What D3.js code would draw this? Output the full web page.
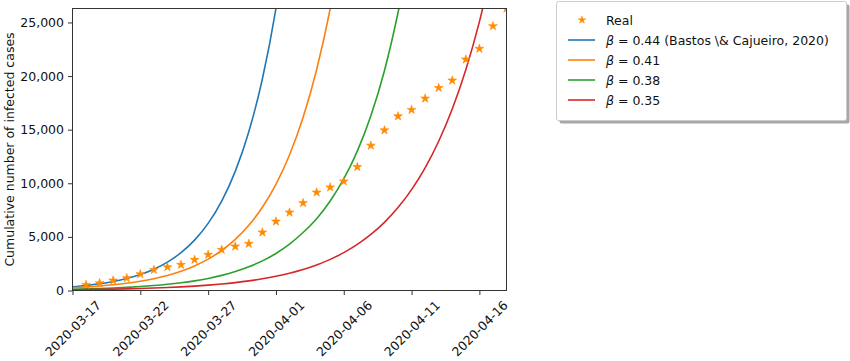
<!DOCTYPE html>
<html>
<head>
<meta charset="utf-8">
<script src="https://cdn.jsdelivr.net/npm/d3@7"></script>
<style>
  html, body { margin: 0; padding: 0; background: #fff; }
  svg { display: block; font-family: "DejaVu Sans", sans-serif; }
</style>
</head>
<body>
<svg id="chart" width="850" height="361"></svg>
<script>
// ---------------- data ----------------
const days = [
  "2020-03-17","2020-03-18","2020-03-19","2020-03-20","2020-03-21","2020-03-22",
  "2020-03-23","2020-03-24","2020-03-25","2020-03-26","2020-03-27","2020-03-28",
  "2020-03-29","2020-03-30","2020-03-31","2020-04-01","2020-04-02","2020-04-03",
  "2020-04-04","2020-04-05","2020-04-06","2020-04-07","2020-04-08","2020-04-09",
  "2020-04-10","2020-04-11","2020-04-12","2020-04-13","2020-04-14","2020-04-15",
  "2020-04-16","2020-04-17","2020-04-18"
];
// Real cumulative cases, from 2020-03-18
const realDays = days.slice(1);
const realCases = [530, 690, 935, 1160, 1530, 1930, 2185, 2400, 2865, 3335, 3800, 4110,
  4360, 5420, 6440, 7280, 8160, 9150, 9620, 10180, 11525, 13515, 14945, 16250,
  16850, 17905, 18900, 19585, 21550, 22550, 24660, 26300];
// Model curves, from 2020-03-17, one value per day
const beta044 = [355, 473, 630, 840, 1119, 1491, 1986, 2647, 3526, 4698, 6260, 8341,
  11113, 14807, 19729, 26287, 35025];
const beta041 = [255, 325, 415, 530, 677, 863, 1102, 1406, 1795, 2291, 2924, 3732,
  4763, 6079, 7759, 9903, 12639, 16131, 20588, 26277, 33537];
const beta038 = [120, 150, 188, 235, 294, 368, 460, 576, 720, 901, 1127, 1410, 1764,
  2207, 2762, 3455, 4323, 5408, 6700, 8350, 10400, 13000, 16300, 20500, 25900, 32500];
const beta035 = [70, 85, 104, 126, 153, 187, 227, 276, 336, 409, 497, 605, 736, 895,
  1089, 1325, 1612, 1961, 2385, 2902, 3530, 4294, 5224, 6355, 7731, 9405, 11441,
  13918, 16932, 20598, 25057, 30482];
const seriesNames = ["0.44 (Bastos \\& Cajueiro, 2020)", "0.41", "0.38", "0.35"];
const seriesColors = ["#1f77b4", "#ff7f0e", "#2ca02c", "#d62728"];
const yTicks = [0, 5000, 10000, 15000, 20000, 25000];
const xTickLabels = ["2020-03-17","2020-03-22","2020-03-27","2020-04-01","2020-04-06","2020-04-11","2020-04-16"];
const yLabel = "Cumulative number of infected cases";
const realLabel = "Real";
const yMax = 26300;

// ---------------- layout ----------------
const parse = d3.timeParse("%Y-%m-%d");
const plot = { left: 72.5, right: 506.5, top: 8.5, bottom: 290.5 };
const svg = d3.select("#chart");

const x = d3.scaleTime()
  .domain([parse(days[0]), parse(days[days.length - 1])])
  .range([plot.left, plot.right]);
const y = d3.scaleLinear().domain([0, yMax]).range([plot.bottom, plot.top]);

svg.append("defs").append("clipPath").attr("id", "clip")
  .append("rect")
  .attr("x", plot.left).attr("y", plot.top)
  .attr("width", plot.right - plot.left).attr("height", plot.bottom - plot.top);

// lines
const line = d3.line()
  .x(d => x(d.date)).y(d => y(d.v))
  .curve(d3.curveMonotoneX);
const series = [beta044, beta041, beta038, beta035];
const gLines = svg.append("g").attr("clip-path", "url(#clip)");
series.forEach((vals, i) => {
  const pts = vals.map((v, k) => ({ date: parse(days[k]), v }));
  gLines.append("path")
    .attr("d", line(pts))
    .attr("fill", "none")
    .attr("stroke", seriesColors[i])
    .attr("stroke-width", 1.6);
});

// stars
const starColor = "#ff8c00";
const star = d3.symbol().type(d3.symbolStar).size(24);
const gStars = svg.append("g").attr("clip-path", "url(#clip)");
realCases.forEach((v, k) => {
  gStars.append("path")
    .attr("d", star())
    .attr("transform", `translate(${x(parse(realDays[k]))},${y(v)})`)
    .attr("fill", starColor)
    .attr("stroke", starColor)
    .attr("stroke-width", 0.6);
});

// axes
const yAxis = d3.axisLeft(y).tickValues(yTicks).tickFormat(d3.format(",")).tickSize(4.5).tickPadding(4);
const gy = svg.append("g").attr("transform", `translate(${plot.left},0)`).call(yAxis);
gy.select(".domain").remove();
gy.selectAll(".tick line").attr("stroke", "#333").attr("stroke-width", 1);
gy.selectAll(".tick text").attr("font-size", "12.5px").attr("fill", "#111")
  .attr("font-family", "DejaVu Sans");

const xAxis = d3.axisBottom(x).tickValues(xTickLabels.map(parse))
  .tickFormat(d3.timeFormat("%Y-%m-%d")).tickSize(4.5);
const gx = svg.append("g").attr("transform", `translate(0,${plot.bottom})`).call(xAxis);
gx.select(".domain").remove();
gx.selectAll(".tick line").attr("stroke", "#333").attr("stroke-width", 1);
gx.selectAll(".tick text")
  .attr("font-size", "12.5px").attr("fill", "#111").attr("font-family", "DejaVu Sans")
  .attr("text-anchor", "middle")
  .attr("dy", null).attr("y", null)
  .attr("dominant-baseline", "central")
  .attr("transform", "translate(0,38) rotate(-45)");

// frame
svg.append("rect")
  .attr("x", plot.left).attr("y", plot.top)
  .attr("width", plot.right - plot.left).attr("height", plot.bottom - plot.top)
  .attr("fill", "none").attr("stroke", "#333").attr("stroke-width", 1);

// y label
svg.append("text")
  .attr("transform", `translate(13.5,${(plot.top + plot.bottom) / 2}) rotate(-90)`)
  .attr("text-anchor", "middle")
  .attr("font-size", "12.5px").attr("fill", "#111")
  .text(yLabel);

// legend
const lg = svg.append("g").attr("transform", "translate(556.5,1.5)");
const lw = 290, lh = 119;
lg.append("rect").attr("x", 3).attr("y", 3).attr("width", lw).attr("height", lh)
  .attr("rx", 2).attr("fill", "#8a8a8a").attr("opacity", 0.75);
lg.append("rect").attr("x", 0).attr("y", 0).attr("width", lw).attr("height", lh)
  .attr("rx", 2).attr("fill", "#fff").attr("stroke", "#cccccc").attr("stroke-width", 1);

const rowY = k => 18.5 + k * 20;
lg.append("path").attr("d", d3.symbol().type(d3.symbolStar).size(18)())
  .attr("transform", `translate(25.5,${rowY(0)})`)
  .attr("fill", starColor).attr("stroke", starColor).attr("stroke-width", 0.5);
lg.append("text").attr("x", 49.5).attr("y", rowY(0))
  .attr("dominant-baseline", "central").attr("font-size", "12.5px").attr("fill", "#111")
  .text(realLabel);
seriesNames.forEach((name, i) => {
  const yy = rowY(i + 1);
  lg.append("line").attr("x1", 11.5).attr("x2", 38.5).attr("y1", yy).attr("y2", yy)
    .attr("stroke", seriesColors[i]).attr("stroke-width", 1.6);
  const t = lg.append("text").attr("x", 49.5).attr("y", yy)
    .attr("dominant-baseline", "central").attr("font-size", "12.5px").attr("fill", "#111");
  t.append("tspan").attr("font-style", "italic").text("β");
  t.append("tspan").text(" = " + name);
});
</script>
</body>
</html>
